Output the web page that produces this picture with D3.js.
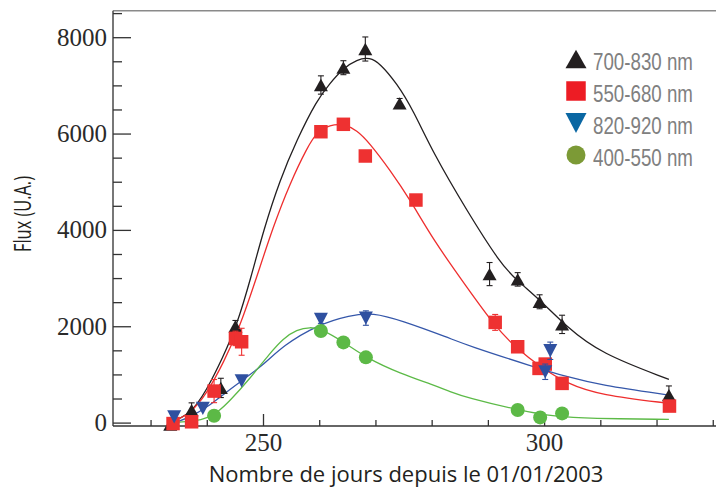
<!DOCTYPE html>
<html><head><meta charset="utf-8">
<script src="https://cdn.jsdelivr.net/npm/d3@7"></script>
<style>body{margin:0;background:#fff}svg{display:block}</style>
</head><body><svg id="c" width="716" height="488"></svg>
<script>
// ---------- data ----------
const seriesNames = ["700-830 nm", "550-680 nm", "820-920 nm", "400-550 nm"];

// 700-830 nm (black triangles)
const days700 = [233.5, 237.3, 242.5, 245.1, 260.3, 264.3, 268.2, 274.3, 290.3, 295.3, 299.2, 303.2, 322.2];
const flux700 = [-40, 260, 720, 2000, 7008, 7367, 7755, 6628, 3083, 2973, 2508, 2039, 571];
const err700  = [0, 150, 200, 120, 190, 145, 250, 100, 240, 140, 145, 190, 190];

// 550-680 nm (red squares)
const days550 = [234.0, 237.3, 241.3, 245.1, 246.2, 260.3, 264.3, 268.2, 277.2, 291.3, 295.3, 299.1, 300.2, 303.2, 322.3];
const flux550 = [-20, 17, 654, 1748, 1678, 6038, 6192, 5534, 4620, 2080, 1574, 1125, 1215, 814, 343];
const err550  = [0, 0, 240, 150, 280, 80, 60, 0, 60, 165, 0, 0, 0, 0, 0];

// 820-920 nm (blue inverted triangles)
const days820 = [234.2, 239.3, 246.2, 260.3, 268.3, 300.2, 301.1];
const flux820 = [120, 295, 868, 2140, 2170, 1055, 1491];
const err820  = [0, 0, 0, 80, 150, 160, 180];

// 400-550 nm (green circles)
const days400 = [241.3, 260.3, 264.3, 268.3, 295.3, 299.3, 303.2];
const flux400 = [141, 1900, 1665, 1354, 260, 108, 191];

// fitted curves
const fitDays700 = [233.2, 237.0, 240.0, 242.9, 245.3, 247.9, 250.1, 253.0, 256.0, 259.6, 261.9, 264.3, 266.7, 269.0, 270.8, 273.8, 276.7, 280.3, 286.2, 292.2, 295.1, 299.3, 304.0, 310.0, 322.2];
const fitFlux700 = [0, 156, 675, 1366, 2000, 3028, 3997, 5035, 5866, 6697, 7043, 7355, 7540, 7580, 7458, 7043, 6489, 5590, 4412, 3305, 2959, 2544, 1989, 1437, 897];

const fitDays550 = [233.5, 237.0, 240.0, 243.0, 245.9, 248.9, 251.8, 254.8, 257.8, 259.7, 261.9, 264.3, 266.7, 269.0, 272.6, 276.2, 280.3, 286.2, 291.3, 295.1, 299.3, 304.0, 310.0, 322.3];
const fitFlux550 = [0, 170, 600, 1250, 1990, 3027, 4066, 4967, 5700, 6050, 6180, 6200, 6074, 5797, 5243, 4620, 3789, 2820, 1989, 1541, 1159, 814, 571, 399];

const fitDays820 = [234.4, 237.0, 240.6, 243.2, 246.2, 250.1, 253.6, 259.6, 265.5, 269.6, 274.4, 283.3, 286.2, 298.1, 304.0, 310.0, 322.2];
const fitFlux820 = [0, 110, 360, 610, 868, 1200, 1600, 2024, 2232, 2280, 2128, 1748, 1609, 1159, 951, 779, 571];

const fitDays400 = [234.0, 238.0, 240.0, 242.0, 244.1, 247.7, 251.2, 253.6, 256.0, 258.4, 260.4, 264.3, 268.5, 274.4, 280.3, 283.3, 286.2, 295.3, 302.1, 308.1, 322.2];
const fitFlux400 = [0, 30, 90, 220, 450, 918, 1437, 1748, 1930, 1985, 1940, 1678, 1333, 1020, 780, 640, 520, 260, 121, 87, 66];

const yTickLabels = [0, 2000, 4000, 6000, 8000];
const xTickLabels = [250, 300];

// ---------- drawing ----------
const svg = d3.select('#c');
const L = 113, R = 716, T = 10.7, B = 426;
const x = d3.scaleLinear().domain([250, 300]).range([263, 544.1]);
const y = d3.scaleLinear().domain([0, 8000]).range([422.6, 37.2]);

// custom symbols (size = width in px)
const triUp = { draw(ctx, s) { const h = s * 0.88; ctx.moveTo(0, -h / 2); ctx.lineTo(s / 2, h / 2); ctx.lineTo(-s / 2, h / 2); ctx.closePath(); } };
const triDown = { draw(ctx, s) { const h = s * 0.95; ctx.moveTo(0, h / 2); ctx.lineTo(s / 2, -h / 2); ctx.lineTo(-s / 2, -h / 2); ctx.closePath(); } };
const square = { draw(ctx, s) { ctx.rect(-s / 2, -s / 2, s, s); } };
const circle = { draw(ctx, s) { ctx.arc(0, 0, s / 2, 0, 2 * Math.PI); } };

// condensed text helper: squeeze a text horizontally to a target width
function condense(sel, target, base) {
  const n = sel.node();
  const w = n.getComputedTextLength();
  const sx = Math.min(1, target / w);
  sel.attr('transform', base + ` scale(${sx},1)`);
}

// frame
svg.append('line').attr('x1', L).attr('x2', R).attr('y1', T).attr('y2', T).attr('stroke', '#8a8a8a').attr('stroke-width', 1.6);
svg.append('line').attr('x1', L).attr('x2', L).attr('y1', T).attr('y2', B).attr('stroke', '#555').attr('stroke-width', 1.6);
svg.append('line').attr('x1', L).attr('x2', R).attr('y1', B).attr('y2', B).attr('stroke', '#333').attr('stroke-width', 1.6);

// y ticks
const yMinor = d3.range(0, 8501, 500).filter(v => v % 2000 !== 0);
const yMajor = d3.range(0, 8001, 2000);
function styleTicks(g) { g.select('.domain').remove(); g.selectAll('line').attr('stroke', '#333').attr('stroke-width', 1.3); }
svg.append('g').attr('transform', `translate(${L},0)`)
  .call(d3.axisRight(y).tickValues(yMinor).tickSize(9).tickFormat(''))
  .call(styleTicks);
svg.append('g').attr('transform', `translate(${L},0)`)
  .call(d3.axisRight(y).tickValues(yMajor).tickSize(18).tickFormat(''))
  .call(styleTicks);
const yLab = svg.append('g').attr('transform', `translate(${L},0)`)
  .call(d3.axisLeft(y).tickValues(yTickLabels).tickSize(0).tickPadding(6).tickFormat(d3.format('d')));
yLab.select('.domain').remove();
yLab.selectAll('text').attr('font-family', '"Liberation Serif", serif').attr('font-size', 25).attr('fill', '#2a2a2a');

// x ticks
const xMinor = d3.range(230, 331, 10).filter(v => v % 50 !== 0);
const xMajor = [250, 300];
svg.append('g').attr('transform', `translate(0,${B})`)
  .call(d3.axisTop(x).tickValues(xMinor).tickSize(6).tickFormat(''))
  .call(styleTicks);
svg.append('g').attr('transform', `translate(0,${B})`)
  .call(d3.axisTop(x).tickValues(xMajor).tickSize(12).tickFormat(''))
  .call(styleTicks);
const xLab = svg.append('g').attr('transform', `translate(0,${B})`)
  .call(d3.axisBottom(x).tickValues(xTickLabels).tickSize(0).tickPadding(7).tickFormat(d3.format('d')));
xLab.select('.domain').remove();
xLab.selectAll('text').attr('font-family', '"Liberation Serif", serif').attr('font-size', 25).attr('fill', '#2a2a2a');

// axis titles
svg.append('text').attr('x', 406).attr('y', 482).attr('text-anchor', 'middle')
  .attr('font-family', '"Open Sans", sans-serif').attr('font-size', 22).attr('fill', '#231f20')
  .text('Nombre de jours depuis le 01/01/2003');
const yTitle = svg.append('text').attr('text-anchor', 'middle')
  .attr('font-family', '"Open Sans", sans-serif').attr('font-size', 23).attr('fill', '#231f20')
  .text('Flux (U.A.)');
condense(yTitle, 76, 'translate(31,214) rotate(-90)');

// curves
const line = d3.line().x(d => x(d[0])).y(d => y(d[1])).curve(d3.curveBasis);
const curves = [
  { d: fitDays700, v: fitFlux700, c: '#231f20' },
  { d: fitDays550, v: fitFlux550, c: '#ee2e2e' },
  { d: fitDays820, v: fitFlux820, c: '#3557aa' },
  { d: fitDays400, v: fitFlux400, c: '#5cba47' }
];
curves.forEach(cv => {
  svg.append('path').datum(d3.zip(cv.d, cv.v)).attr('d', line)
    .attr('fill', 'none').attr('stroke', cv.c).attr('stroke-width', 1.3);
});

// markers with error bars
const series = [
  { d: days700, v: flux700, e: err700, type: triUp, size: 14, c: '#231f20', ec: '#231f20' },
  { d: days550, v: flux550, e: err550, type: square, size: 13.5, c: '#ee3131', ec: '#ee3131' },
  { d: days820, v: flux820, e: err820, type: triDown, size: 14, c: '#2f50a0', ec: '#2f50a0' },
  { d: days400, v: flux400, e: null, type: circle, size: 14, c: '#5cb946', ec: '#5cb946' }
];
series.forEach(s => {
  const pts = s.d.map((d, i) => ({ d, v: s.v[i], e: s.e ? s.e[i] : 0 }));
  const eb = svg.append('g').attr('stroke', s.ec).attr('stroke-width', 1.1);
  pts.filter(p => p.e > 0).forEach(p => {
    const cx = x(p.d), y1 = y(p.v + p.e), y2 = y(p.v - p.e);
    eb.append('line').attr('x1', cx).attr('x2', cx).attr('y1', y1).attr('y2', y2);
    eb.append('line').attr('x1', cx - 3).attr('x2', cx + 3).attr('y1', y1).attr('y2', y1);
    eb.append('line').attr('x1', cx - 3).attr('x2', cx + 3).attr('y1', y2).attr('y2', y2);
  });
  svg.append('g').selectAll('path').data(pts).join('path')
    .attr('transform', p => `translate(${x(p.d)},${y(p.v)})`)
    .attr('d', d3.symbol().type(s.type).size(s.size))
    .attr('fill', s.c);
});

// legend
const legendColors = ['#231f20', '#ed1c24', '#0a67a3', '#7c9a36'];
const legendTypes = [triUp, square, triDown, circle];
const legendSizes = [21, 19.5, 21, 19];
const lg = svg.append('g');
seriesNames.forEach((name, i) => {
  const cy = 59 + i * 32;
  lg.append('path').attr('transform', `translate(576,${cy})`)
    .attr('d', d3.symbol().type(legendTypes[i]).size(legendSizes[i]))
    .attr('fill', legendColors[i]);
  const t = lg.append('text')
    .attr('font-family', '"Liberation Sans", sans-serif')
    .attr('font-size', 24.5).attr('fill', '#808080').text(name);
  condense(t, 100, `translate(593,${cy + 10.5})`);
});
</script></body></html>
